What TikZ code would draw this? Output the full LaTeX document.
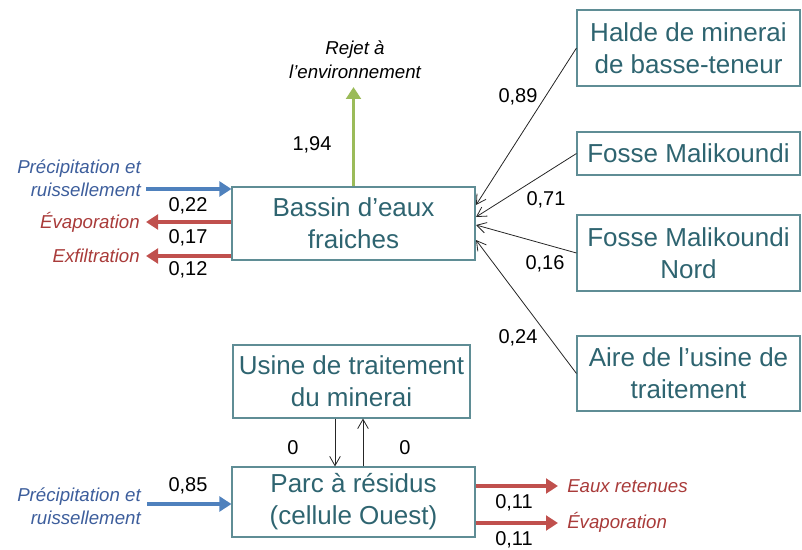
\documentclass[tikz,border=0pt]{standalone}
\usepackage{fontspec}
\setmainfont{Liberation Sans}
\usepackage{tikz}
\usetikzlibrary{arrows.meta,positioning}
\definecolor{boxline}{HTML}{5F8D95}
\definecolor{boxtext}{HTML}{2E6470}
\definecolor{flowblue}{HTML}{4F81BD}
\definecolor{flowred}{HTML}{C0504D}
\definecolor{flowgreen}{HTML}{9BBB59}
\definecolor{txtblue}{HTML}{3D5E9C}
\definecolor{txtred}{HTML}{A93B3A}

\begin{document}
\begin{tikzpicture}[x=0.75pt,y=-0.75pt,
  unit/.style={draw=boxline,line width=0.8pt,text=boxtext,align=center,inner sep=0pt,
    font=\fontsize{19.5}{24}\selectfont},
  num/.style={inner sep=0pt,font=\fontsize{15}{18}\selectfont},
  srclab/.style={inner sep=0pt,align=right,text=txtblue,font=\fontsize{14}{17.5}\selectfont\itshape},
  losslab/.style={inner sep=0pt,text=txtred,font=\fontsize{14}{17.5}\selectfont\itshape},
  feed/.style={-{Straight Barb[length=7pt,width=8pt]},line width=0.6pt,black!85},
  inflow/.style={-{Triangle[length=9pt,width=11pt]},line width=2.8pt,flowblue},
  outflow/.style={-{Triangle[length=9pt,width=11pt]},line width=2.8pt,flowred},
  rejflow/.style={-{Triangle[length=9pt,width=11pt]},line width=2.8pt,flowgreen}]
  \useasboundingbox (0,0) rectangle (802,549);
  % boxes
  \node[unit,minimum width=182.25pt,minimum height=54.75pt] (bassin) at (353.5,223.5) {Bassin d’eaux\\fraiches};
  \node[unit,minimum width=167.25pt,minimum height=57pt] (halde) at (688.5,48) {Halde de minerai\\de basse-teneur};
  \node[unit,minimum width=167.25pt,minimum height=32.25pt] (fosse) at (688.5,153.5) {Fosse Malikoundi};
  \node[unit,minimum width=167.25pt,minimum height=57pt] (fnord) at (688.5,253) {Fosse Malikoundi\\Nord};
  \node[unit,minimum width=167.25pt,minimum height=56.25pt] (aire) at (688.5,373.5) {Aire de l’usine de\\traitement};
  \node[unit,minimum width=177.75pt,minimum height=54.75pt] (usine) at (351.5,381.5) {Usine de traitement\\du minerai};
  \node[unit,minimum width=182.25pt,minimum height=52.5pt] (parc) at (353.5,502) {Parc à résidus\\(cellule Ouest)};

  % bassin: inputs and losses on the left
  \node[srclab,anchor=east] (precA) at (141,178) {Précipitation et\\ruissellement};
  \coordinate (precAout) at (146,189);
  \draw[inflow] (precAout) -- (bassin.west |- precAout);
  \node[num] (nA) at (188,206) {0,22};
  \node[losslab,anchor=east] (evapA) at (140,222) {Évaporation};
  \coordinate (evapAin) at (146,222);
  \draw[outflow] (bassin.west |- evapAin) -- (evapAin);
  \node[num] (nB) at (188,238) {0,17};
  \node[losslab,anchor=east] (exfil) at (140,256) {Exfiltration};
  \coordinate (exfilin) at (146,256);
  \draw[outflow] (bassin.west |- exfilin) -- (exfilin);
  \node[num] (nC) at (188,270) {0,12};

  % rejet
  \node[inner sep=0pt,align=center,font=\fontsize{14}{18}\selectfont\itshape] (rejet) at (355,60) {Rejet à\\l’environnement};
  \coordinate (rejettip) at (353.5,87);
  \draw[rejflow] (bassin.north) -- (rejettip);
  \node[num] (nD) at (312,145) {1,94};

  % feeds from the right
  \coordinate (tH) at (476,205);
  \coordinate (tF) at (476,217);
  \coordinate (tN) at (476,225);
  \coordinate (tA) at (476,240);
  \draw[feed] (halde.west) -- (tH);
  \draw[feed] (fosse.west) -- (tF);
  \draw[feed] (fnord.west) -- (tN);
  \draw[feed] (aire.west) -- (tA);
  \node[num] (nH) at (518,97) {0,89};
  \node[num] (nF) at (546,200) {0,71};
  \node[num] (nN) at (545,264) {0,16};
  \node[num] (nAi) at (518,338) {0,24};

  % usine <-> parc
  \draw[feed] (usine.south -| 335,0) -- (parc.north -| 335,0);
  \draw[feed] (parc.north -| 363,0) -- (usine.south -| 363,0);
  \node[num] (nU1) at (293,448) {0};
  \node[num] (nU2) at (405,448) {0};

  % parc: input and losses
  \node[srclab,anchor=east] (precB) at (141,506) {Précipitation et\\ruissellement};
  \coordinate (precBout) at (147,504);
  \draw[inflow] (precBout) -- (parc.west |- precBout);
  \node[num] (nP) at (188,486) {0,85};
  \coordinate (retin) at (558,486);
  \coordinate (evapBin) at (558,523);
  \draw[outflow] (parc.east |- retin) -- (retin);
  \draw[outflow] (parc.east |- evapBin) -- (evapBin);
  \node[losslab,anchor=west] (retenue) at (567,486) {Eaux retenues};
  \node[losslab,anchor=west] (evapB) at (567,522) {Évaporation};
  \node[num] (nR1) at (514,503) {0,11};
  \node[num] (nR2) at (514,540) {0,11};
\end{tikzpicture}
\end{document}
